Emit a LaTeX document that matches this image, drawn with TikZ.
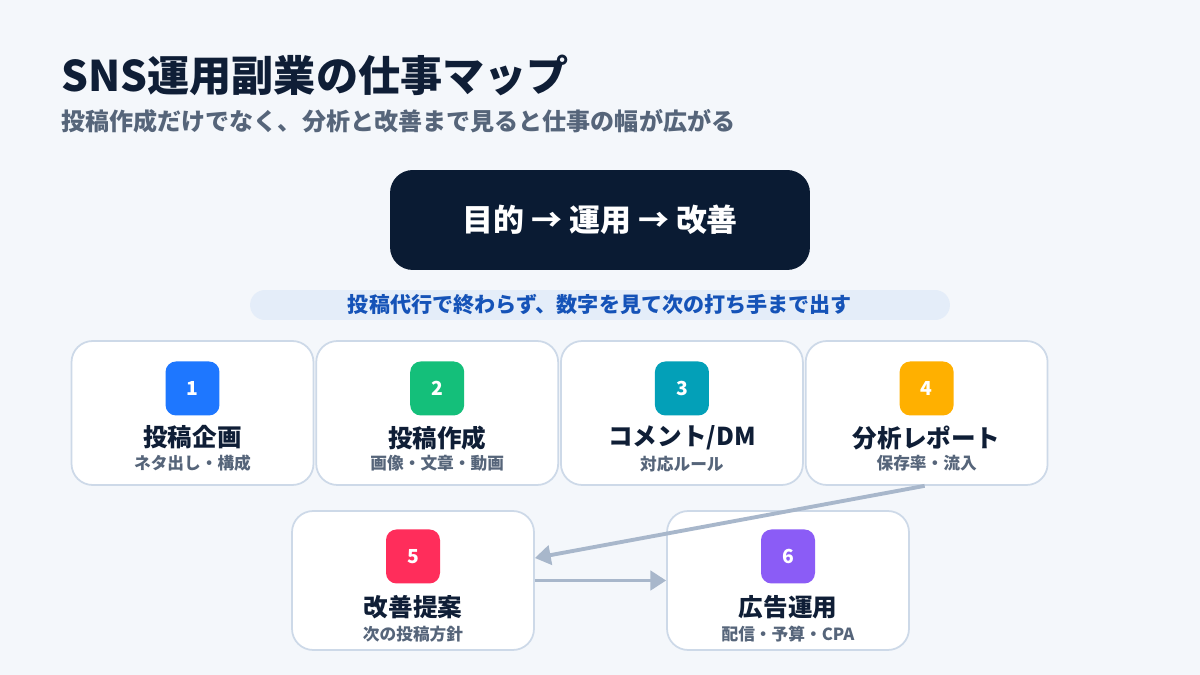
\documentclass[tikz,border=0pt]{standalone}
\usepackage{fontspec}
\setmainfont{Noto Sans CJK JP}
\usepackage{tikz}
\usetikzlibrary{
    positioning,
    arrows.meta
}

\definecolor{bg}{HTML}{F4F7FB}
\definecolor{ink}{HTML}{0F1E36}
\definecolor{navy}{HTML}{0A1B33}
\definecolor{subgray}{HTML}{56657A}
\definecolor{pillfill}{HTML}{E4EDF9}
\definecolor{pilltext}{HTML}{1553B8}
\definecolor{cardline}{HTML}{CDD9E8}
\definecolor{arrowc}{HTML}{A8B7CB}
\definecolor{ic1}{HTML}{1E77FF}
\definecolor{ic2}{HTML}{14BF7A}
\definecolor{ic3}{HTML}{03A0B8}
\definecolor{ic4}{HTML}{FFB000}
\definecolor{ic5}{HTML}{FF2D5B}
\definecolor{ic6}{HTML}{8B5CF6}

\begin{document}
\begin{tikzpicture}[
      x=0.02cm, y=-0.02cm,
      node distance=0.19cm,
      card/.style={draw=cardline, line width=1pt, fill=white, rounded corners=12pt, minimum width=4.84cm, minimum height=2.88cm},
      lowcard/.style={card, minimum height=2.78cm},
      icon/.style={rounded corners=6pt, minimum size=1.08cm, inner sep=0pt, text=white, font=\bfseries\fontsize{11}{13}\selectfont},
      ctitle/.style={inner sep=0pt, text=ink, font=\bfseries\fontsize{14}{16}\selectfont},
      csub/.style={inner sep=0pt, text=subgray, font=\bfseries\fontsize{9.5}{11}\selectfont},
      arrow/.style={-{Triangle[length=9pt,width=11pt]}, line width=2.2pt, draw=arrowc}
    ]
    \fill[bg] (0,0) rectangle (1200,675);
    \useasboundingbox (0,0) rectangle (1200,675);

    % heading
    \node[anchor=west, inner sep=0pt, text=ink, font=\bfseries\fontsize{24}{28}\selectfont] (title) at (61,75) {SNS運用副業の仕事マップ};
    \node[anchor=west, inner sep=0pt, text=subgray, font=\bfseries\fontsize{13.7}{16}\selectfont] (lead) at (61,121) {投稿作成だけでなく、分析と改善まで見ると仕事の幅が広がる};

    \node[fill=navy, rounded corners=13pt, minimum width=8.4cm, minimum height=2cm, text=white, font=\bfseries\fontsize{17.6}{20}\selectfont] (flow) at (600,220) {目的 → 運用 → 改善};
    \node[fill=pillfill, rounded corners=8.5pt, minimum width=14cm, minimum height=0.6cm, inner sep=0pt, text=pilltext, font=\bfseries\fontsize{12}{14}\selectfont] (pill) at (600,305) {投稿代行で終わらず、数字を見て次の打ち手まで出す};

    % row 1
    \node[card] (c1) at (192.5,413) {};
    \node[card, right=0.02cm of c1] (c2) {};
    \node[card, right=0.02cm of c2] (c3) {};
    \node[card, right=0.02cm of c3] (c4) {};

    \node[icon, fill=ic1, below=0.42cm of c1.north] (n1) {1};
    \node[ctitle, below=of n1] (t1) {投稿企画};
    \node[csub, below=0.1cm of t1] (s1) {ネタ出し・構成};

    \node[icon, fill=ic2, below=0.42cm of c2.north] (n2) {2};
    \node[ctitle, below=of n2] (t2) {投稿作成};
    \node[csub, below=0.1cm of t2] (s2) {画像・文章・動画};

    \node[icon, fill=ic3, below=0.42cm of c3.north] (n3) {3};
    \node[ctitle, below=of n3] (t3) {コメント/DM};
    \node[csub, below=0.1cm of t3] (s3) {対応ルール};

    \node[icon, fill=ic4, below=0.42cm of c4.north] (n4) {4};
    \node[ctitle, below=of n4] (t4) {分析レポート};
    \node[csub, below=0.1cm of t4] (s4) {保存率・流入};

    % row 2
    \node[lowcard] (c5) at (413,580.5) {};
    \node[lowcard] (c6) at (788,580.5) {};

    \node[icon, fill=ic5, below=0.38cm of c5.north] (n5) {5};
    \node[ctitle, below=0.23cm of n5] (t5) {改善提案};
    \node[csub, below=0.12cm of t5] (s5) {次の投稿方針};

    \node[icon, fill=ic6, below=0.38cm of c6.north] (n6) {6};
    \node[ctitle, below=0.23cm of n6] (t6) {広告運用};
    \node[csub, below=0.12cm of t6] (s6) {配信・予算・CPA};

    \draw[arrow] ([xshift=-0.04cm]c4.south) -- ([yshift=0.45cm]c5.east);
    \draw[arrow] (c5.east) -- (c6.west);
  \end{tikzpicture}
\end{document}
